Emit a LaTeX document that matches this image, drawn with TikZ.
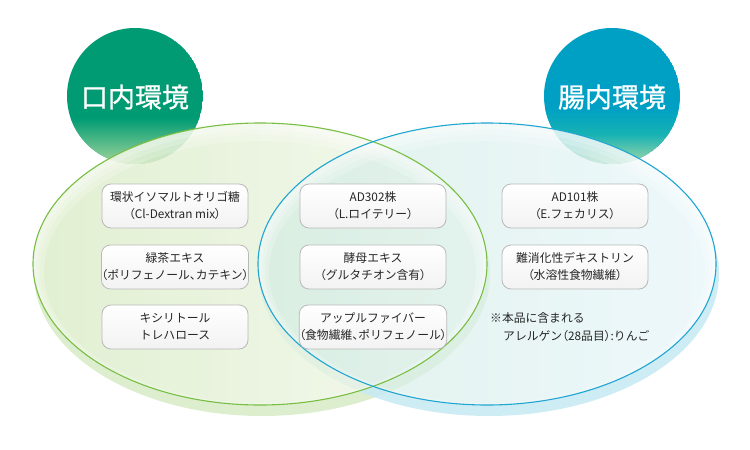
\documentclass[tikz,border=0pt]{standalone}
\usepackage{fontspec}
\setmainfont{Noto Sans CJK JP}
\newfontfamily\pfont{Noto Sans CJK JP}[RawFeature=+palt]
\newfontfamily\tfont{Noto Sans CJK JP}[FakeBold=0.8]
\newcommand\jlp{{\pfont （}}
\newcommand\jrp{{\pfont ）}}
\newcommand\jtc{{\pfont 、}}
\usetikzlibrary{shapes.geometric}
\definecolor{gOut}{HTML}{78BE43}
\definecolor{bOut}{HTML}{1FA5D2}
\definecolor{gDark}{HTML}{009B72}
\definecolor{gLight}{HTML}{A8D89E}
\definecolor{bDark}{HTML}{00A0C4}
\definecolor{bMid}{HTML}{16B2B4}
\definecolor{bLight}{HTML}{ABDAA5}
\definecolor{gShadow}{HTML}{DDEECF}
\definecolor{bShadow}{HTML}{C9EAF3}
\definecolor{gFillL}{HTML}{D8EBC4}
\definecolor{gFillR}{HTML}{F3F8EC}
\definecolor{bFillL}{HTML}{D3ECE2}
\definecolor{bFillM}{HTML}{EEF8FA}
\definecolor{bFillR}{HTML}{E6F5FA}
\definecolor{txt}{HTML}{262626}
\tikzset{
  itembox/.style={draw=gray!55, line width=0.8pt, rounded corners=9pt,
    top color=white, bottom color=gray!10, minimum width=146pt, minimum height=44pt,
    align=center, text=txt, font=\fontsize{11.8}{17}\selectfont, inner sep=0pt},
  titletext/.style={text=white, font=\tfont\fontsize{27}{30}\selectfont},
  notetext/.style={text=txt, font=\fontsize{11.8}{14}\selectfont, anchor=west, inner sep=0pt},
  gloss/.style={white, line width=#1, opacity=0.22}
}
\begin{document}
\begin{tikzpicture}[x=1pt,y=-1pt]
\useasboundingbox (0,0) rectangle (750,450);
% shadows
\begin{scope}[even odd rule]
  \clip (-10,-10) rectangle (760,460) (260,264) ellipse [x radius=227, y radius=141];
  \fill[gShadow] (262,274) ellipse [x radius=228, y radius=142];
\end{scope}
\begin{scope}[even odd rule]
  \clip (-10,-10) rectangle (760,460) (487,264) ellipse [x radius=229, y radius=141];
  \fill[bShadow, opacity=0.9] (489,274) ellipse [x radius=230, y radius=142];
\end{scope}
% circles
\begin{scope}
  \clip (135,96) circle [radius=68];
  \fill[gDark] (135,96) circle [radius=68];
  \shade[top color=gDark, bottom color=gLight] (60,118) rectangle (210,166);
\end{scope}
\begin{scope}
  \clip (612,96) circle [radius=68];
  \fill[bDark] (612,96) circle [radius=68];
  \shade[top color=bDark, bottom color=bMid] (540,108) rectangle (690,134);
  \shade[top color=bMid, bottom color=bLight] (540,134) rectangle (690,166);
\end{scope}
\node[titletext] (t1) at (135,97) {口内環境};
\node[titletext] (t2) at (612,97) {腸内環境};
% ellipse fills
\shade[left color=gFillL, right color=gFillR, fill opacity=0.78]
  (260,264) ellipse [x radius=227, y radius=141];
\shade[left color=bFillL, middle color=bFillM, right color=bFillR, fill opacity=0.7]
  (487,264) ellipse [x radius=229, y radius=141];
% soft glossy highlight near the top
\begin{scope}
  \clip (260,264) ellipse [x radius=227, y radius=141];
  \draw[gloss=20pt] (260,272) ellipse [x radius=226, y radius=141];
  \draw[gloss=12pt] (260,270) ellipse [x radius=226, y radius=141];
  \draw[gloss=6pt] (260,268) ellipse [x radius=226, y radius=141];
\end{scope}
\begin{scope}
  \clip (487,264) ellipse [x radius=229, y radius=141];
  \draw[gloss=20pt] (487,272) ellipse [x radius=228, y radius=141];
  \draw[gloss=12pt] (487,270) ellipse [x radius=228, y radius=141];
  \draw[gloss=6pt] (487,268) ellipse [x radius=228, y radius=141];
\end{scope}
% outlines
\draw[gOut, line width=1.1pt] (260,264) ellipse [x radius=227, y radius=141];
\draw[bOut, line width=1.1pt] (487,264) ellipse [x radius=229, y radius=141];
% boxes
\node[itembox] (a1) at (175,206) {環状イソマルトオリゴ糖\\\jlp Cl-Dextran mix\jrp};
\node[itembox] (a2) at (175,267) {緑茶エキス\\\jlp ポリフェノール\jtc カテキン\jrp};
\node[itembox] (a3) at (175,327) {キシリトール\\トレハロース};
\node[itembox] (b1) at (373,206) {AD302株\\\jlp L.ロイテリー\jrp};
\node[itembox] (b2) at (373,267) {酵母エキス\\\jlp グルタチオン含有\jrp};
\node[itembox] (b3) at (373,327) {アップルファイバー\\\jlp 食物繊維\jtc ポリフェノール\jrp};
\node[itembox] (c1) at (575,206) {AD101株\\\jlp E.フェカリス\jrp};
\node[itembox] (c2) at (575,267) {難消化性デキストリン\\\jlp 水溶性食物繊維\jrp};
\node[notetext] (n1) at (490,318) {※本品に含まれる};
\node[notetext] (n2) at (503,336) {アレルゲン\jlp 28品目\jrp :りんご};
\end{tikzpicture}
\end{document}
